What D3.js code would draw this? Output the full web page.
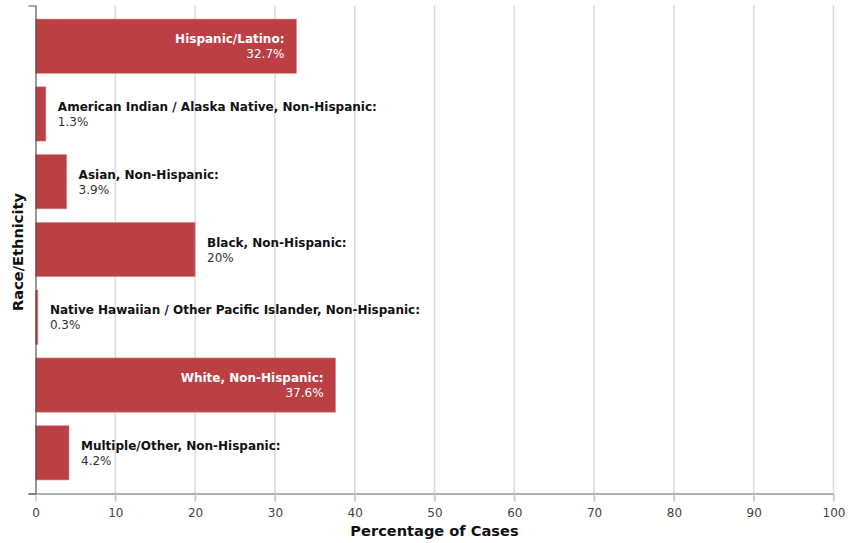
<!DOCTYPE html>
<html>
<head>
<meta charset="utf-8">
<script src="https://cdn.jsdelivr.net/npm/d3@7"></script>
<style>
  html, body { margin: 0; padding: 0; background: #fff; }
  svg { display: block; }
</style>
</head>
<body>
<svg id="chart" width="848" height="543"></svg>
<script>
const categories = [
  "Hispanic/Latino",
  "American Indian / Alaska Native, Non-Hispanic",
  "Asian, Non-Hispanic",
  "Black, Non-Hispanic",
  "Native Hawaiian / Other Pacific Islander, Non-Hispanic",
  "White, Non-Hispanic",
  "Multiple/Other, Non-Hispanic"
];
const values = [32.7, 1.3, 3.9, 20, 0.3, 37.6, 4.2];
const valueLabels = ["32.7%", "1.3%", "3.9%", "20%", "0.3%", "37.6%", "4.2%"];
const xTicks = [0, 10, 20, 30, 40, 50, 60, 70, 80, 90, 100];

const data = categories.map((c, i) => ({ cat: c, value: values[i], label: valueLabels[i] }));

const margin = { left: 35.5, right: 14.5, top: 5.5, bottom: 49.5 };
const W = 848, H = 543;
const svg = d3.select("#chart");
const FONT = "DejaVu Sans, Verdana, sans-serif";

const x = d3.scaleLinear().domain([0, 100]).range([margin.left, W - margin.right]);
const y = d3.scaleBand().domain(categories).range([margin.top, H - margin.bottom])
  .paddingInner(0.2).paddingOuter(0.2);

// gridlines
svg.append("g").selectAll("line").data(xTicks.slice(1)).join("line")
  .attr("x1", d => x(d)).attr("x2", d => x(d))
  .attr("y1", margin.top).attr("y2", H - margin.bottom + 8)
  .attr("stroke", "#dcdcdc").attr("stroke-width", 1.5);

// bars
svg.append("g").selectAll("rect").data(data).join("rect")
  .attr("x", x(0))
  .attr("y", d => y(d.cat))
  .attr("width", d => x(d.value) - x(0))
  .attr("height", y.bandwidth())
  .attr("fill", "#bc4043")
  .attr("stroke", "#d98a8c").attr("stroke-width", 0.6);

// x axis
const xAxis = d3.axisBottom(x).tickValues(xTicks).tickSize(8).tickSizeOuter(0).tickPadding(7);
const gx = svg.append("g").attr("transform", `translate(0,${H - margin.bottom})`).call(xAxis);
gx.select(".domain").attr("stroke", "#666").attr("stroke-width", 1.2)
  .attr("d", `M${margin.left - 7},0.5H${W - margin.right}`);
gx.selectAll(".tick line").attr("stroke", "#ccc").attr("stroke-width", 1.5);
gx.selectAll(".tick text").attr("fill", "#444").attr("font-family", FONT).attr("font-size", 12);

// y axis
const gy = svg.append("g").attr("transform", `translate(${margin.left},0)`)
  .call(d3.axisLeft(y).tickValues([]).tickSizeOuter(7));
gy.select(".domain").attr("stroke", "#555").attr("stroke-width", 1.2);

// labels
const big = d => d.value > 25;
const lab = svg.append("g").attr("font-family", FONT).attr("font-size", 12);
const lg = lab.selectAll("g").data(data).join("g")
  .attr("transform", d => big(d)
    ? `translate(${x(d.value) - 12},${y(d.cat) + y.bandwidth() / 2})`
    : `translate(${x(d.value) + 12},${y(d.cat) + y.bandwidth() / 2})`);
lg.append("text").attr("text-anchor", d => big(d) ? "end" : "start")
  .attr("y", -7).attr("dy", "0.35em").attr("font-weight", "bold")
  .attr("fill", d => big(d) ? "#fff" : "#111")
  .text(d => d.cat + ":");
lg.append("text").attr("text-anchor", d => big(d) ? "end" : "start")
  .attr("y", 8).attr("dy", "0.35em")
  .attr("fill", d => big(d) ? "#fff" : "#333")
  .text(d => d.label);

// axis titles
svg.append("text").attr("x", (x(0) + x(100)) / 2).attr("y", 531).attr("dy", "0.35em")
  .attr("text-anchor", "middle").attr("font-family", FONT)
  .attr("font-weight", "bold").attr("font-size", 14.6).attr("fill", "#111")
  .text("Percentage of Cases");
svg.append("text").attr("transform", "translate(18,252) rotate(-90)").attr("dy", "0.35em")
  .attr("text-anchor", "middle").attr("font-family", FONT)
  .attr("font-weight", "bold").attr("font-size", 14.6).attr("fill", "#111")
  .text("Race/Ethnicity");
</script>
</body>
</html>
